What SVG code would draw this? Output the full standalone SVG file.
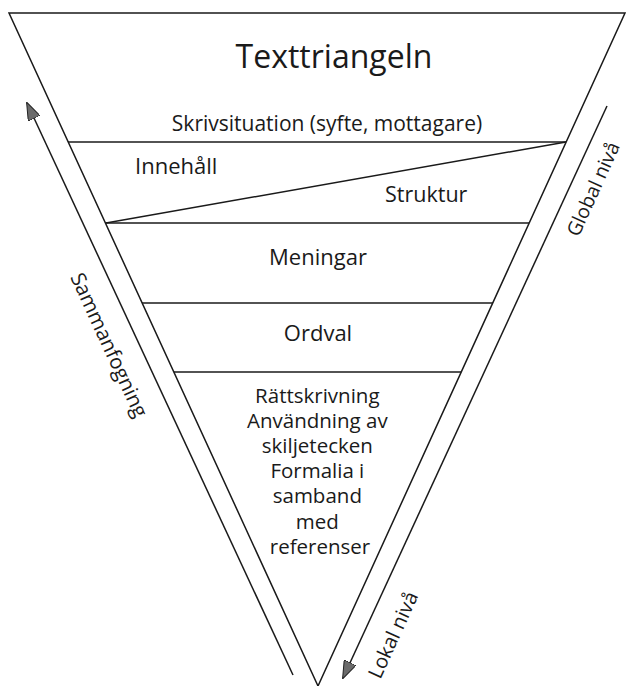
<svg xmlns="http://www.w3.org/2000/svg" width="627" height="686" viewBox="0 0 627 686">
<style>
  .ln { stroke: #1a1a1a; stroke-width: 1.5; fill: none; }
  .t { font-family: "Open Sans", "Noto Sans", "Liberation Sans", sans-serif; fill: #1a1a1a; }
  .c { text-anchor: middle; }
</style>
<defs>
  <marker id="ah" viewBox="0 0 18 13" refX="17" refY="6.5" markerWidth="18" markerHeight="13" markerUnits="userSpaceOnUse" orient="auto">
    <path d="M0,0 L18,6.5 L0,13 Z" fill="#6b6b6b" stroke="#222" stroke-width="1"/>
  </marker>
</defs>
<rect width="627" height="686" fill="#ffffff"/>
<g id="triangle">
  <polygon class="ln" points="9,13 625,13 318,686"/>
</g>
<g id="connectors">
  <line class="ln" x1="68" y1="142" x2="566" y2="142"/>
  <line class="ln" x1="566" y1="142" x2="106" y2="223"/>
  <line class="ln" x1="105" y1="223" x2="529" y2="223"/>
  <line class="ln" x1="142" y1="303" x2="493" y2="303"/>
  <line class="ln" x1="174" y1="372" x2="461" y2="372"/>
  <line class="ln" x1="293" y1="675" x2="27" y2="103" marker-end="url(#ah)"/>
  <line class="ln" x1="607" y1="106" x2="343" y2="678" marker-end="url(#ah)"/>
</g>
<g id="title"><text class="t c" x="334" y="68" font-size="32">Texttriangeln</text></g>
<g id="skrivsituation"><text class="t c" x="327" y="131" font-size="21">Skrivsituation (syfte, mottagare)</text></g>
<g id="innehall"><text class="t" x="135" y="174" font-size="22">Innehåll</text></g>
<g id="struktur"><text class="t" x="385" y="202" font-size="21.5">Struktur</text></g>
<g id="meningar"><text class="t c" x="318" y="265" font-size="22">Meningar</text></g>
<g id="ordval"><text class="t c" x="318" y="341" font-size="22">Ordval</text></g>
<g id="rattskrivning">
  <text class="t c" font-size="20.5">
    <tspan x="320" y="403">Rättskrivning</tspan>
    <tspan x="320" y="428">Användning av</tspan>
    <tspan x="320" y="453">skiljetecken</tspan>
    <tspan x="320" y="478">Formalia i</tspan>
    <tspan x="320" y="503">samband</tspan>
    <tspan x="320" y="529">med</tspan>
    <tspan x="320" y="554">referenser</tspan>
  </text>
</g>
<g id="sammanfogning"><text class="t c" font-size="20.5" transform="translate(109,345) rotate(65.3)" y="7">Sammanfogning</text></g>
<g id="global"><text class="t c" font-size="19.5" transform="translate(593,189) rotate(-65.5)" y="7">Global nivå</text></g>
<g id="lokal"><text class="t c" font-size="20" transform="translate(393,635) rotate(-65.5)" y="7">Lokal nivå</text></g>
</svg>
